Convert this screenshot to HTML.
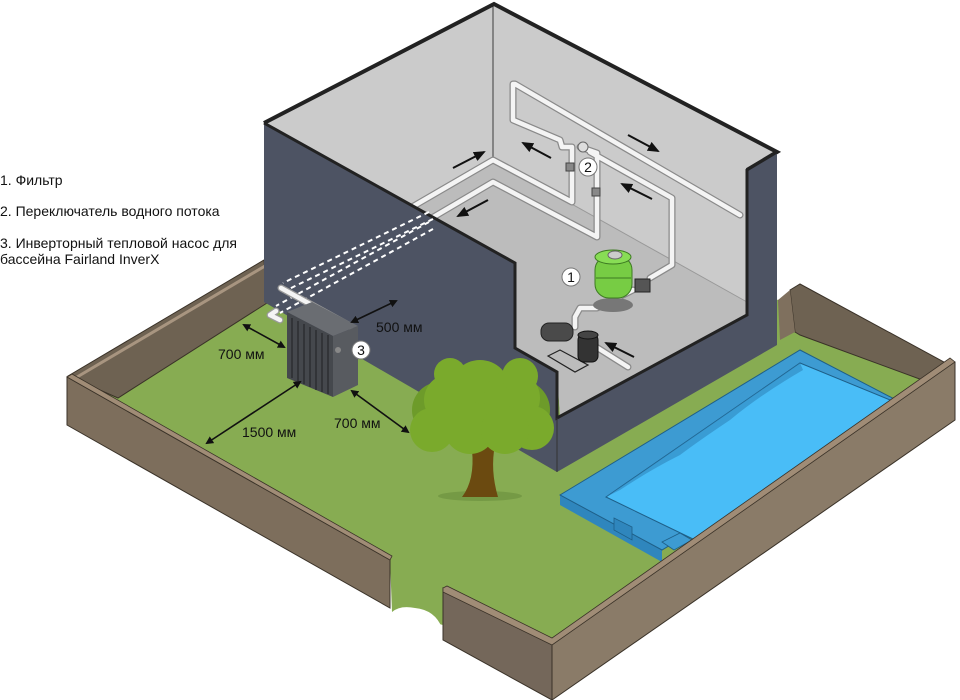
<!DOCTYPE html>
<html><head><meta charset="utf-8"><style>
html,body{margin:0;padding:0;background:#fff;}
svg{display:block}
text{font-family:"Liberation Sans",sans-serif;font-size:14px;fill:#111}
</style></head><body>
<svg width="960" height="700" viewBox="0 0 960 700" xmlns="http://www.w3.org/2000/svg">
<defs>
<marker id="ah" markerWidth="8" markerHeight="8" refX="6" refY="4" orient="auto-start-reverse" markerUnits="userSpaceOnUse"><path d="M0,0 L8,4 L0,8 Z" fill="#111"/></marker>
<marker id="ab" markerWidth="12" markerHeight="10" refX="10" refY="5" orient="auto" markerUnits="userSpaceOnUse"><path d="M0,0 L12,5 L0,10 Z" fill="#111"/></marker>
</defs>

<polygon points="68,378 264,262 780,300 800,288 952,366 552,646 443,592 443,625 392,612 390,560" fill="#87ac52"/>
<path d="M392,612 Q400,605 415,608 Q435,610 442,628 L443,640 L392,640 Z" fill="#fff"/>

<polygon points="68,376 264,260 267,303 118,398" fill="#6e6252" stroke="#3a3228" stroke-width="1"/>
<polyline points="72,380 265,266" stroke="#a89580" stroke-width="3" fill="none"/>
<polygon points="790,290 800,284 955,368 955,392 800,335 795,332" fill="#6e6252" stroke="#3a3228" stroke-width="1"/>
<polygon points="778,300 790,290 795,332 780,340" fill="#7f705e"/>

<polygon points="264,123 494,4 777,152 747,170 747,315 560,415 557,372 515,348 515,263" fill="#cbcbcb"/>
<polygon points="493,160 747,302 747,318 560,415 557,372 515,348 515,263 408,207" fill="#bcbcbc"/>
<line x1="493" y1="6" x2="493" y2="160" stroke="#555" stroke-width="1.2"/>
<line x1="493" y1="160" x2="747" y2="302" stroke="#999" stroke-width="1"/>
<polyline points="264,123 494,4 777,152 747,170" fill="none" stroke="#222" stroke-width="4"/>

<g fill="none" stroke-linecap="round" stroke-linejoin="round">
<g stroke="#8a8a8a" stroke-width="7">
<polyline points="740,215 515,84 513,84 513,120 560,140 562,147 572,147 572,202 493,160 412,207"/>
<polyline points="580,147 597,153 597,237 493,182 425,222"/>
<polyline points="590,152 672,198 672,265 650,278"/>
<polyline points="633,290 597,308 580,308 575,317 575,327"/>
<polyline points="593,345 628,367"/>
</g>
<g stroke="#f4f4f4" stroke-width="4.5">
<polyline points="740,215 515,84 513,84 513,120 560,140 562,147 572,147 572,202 493,160 412,207"/>
<polyline points="580,147 597,153 597,237 493,182 425,222"/>
<polyline points="590,152 672,198 672,265 650,278"/>
<polyline points="633,290 597,308 580,308 575,317 575,327"/>
<polyline points="593,345 628,367"/>
</g>
</g>
<rect x="566" y="163" width="8" height="8" fill="#888" stroke="#444"/>
<rect x="592" y="188" width="8" height="8" fill="#888" stroke="#444"/>
<circle cx="583" cy="147" r="5" fill="#ddd" stroke="#666"/>

<ellipse cx="613" cy="305" rx="20" ry="7" fill="#777"/>
<rect x="595" y="256" width="37" height="42" rx="14" fill="#77cc44" stroke="#3d7a22" stroke-width="1"/>
<ellipse cx="613" cy="257" rx="18" ry="7" fill="#88dd55" stroke="#3d7a22"/>
<ellipse cx="615" cy="255" rx="7" ry="4" fill="#ccc" stroke="#666"/>
<line x1="596" y1="278" x2="631" y2="278" stroke="#3d7a22"/>
<rect x="635" y="279" width="15" height="13" fill="#555" stroke="#222"/>
<polygon points="548,356 575,372 588,365 560,350" fill="none" stroke="#222" stroke-width="1.2"/>
<rect x="541" y="323" width="32" height="18" rx="8" fill="#4a4a4a" stroke="#222"/>
<rect x="578" y="334" width="20" height="28" rx="6" fill="#333" stroke="#111"/>
<ellipse cx="588" cy="335" rx="10" ry="4" fill="#444" stroke="#111"/>

<polygon points="264,123 515,263 515,348 557,372 557,472 264,302" fill="#4d5363"/>
<polygon points="557,418 747,315 747,170 777,152 777,345 557,472" fill="#4d5363"/>
<polyline points="264,123 515,263 515,348 557,372 557,418 747,315 747,170 777,152" fill="none" stroke="#222" stroke-width="3"/>
<line x1="557" y1="418" x2="557" y2="472" stroke="#333" stroke-width="1"/>

<g stroke="#fff" stroke-width="2" stroke-dasharray="5,4" fill="none">
<line x1="429" y1="212" x2="283" y2="283"/>
<line x1="433" y1="219" x2="287" y2="290"/>
<line x1="429" y1="222" x2="276" y2="306"/>
<line x1="433" y1="229" x2="280" y2="313"/>
</g>
<g fill="none" stroke-linecap="round" stroke-linejoin="round">
<polyline points="281,288 350,326" stroke="#999" stroke-width="7"/>
<polyline points="281,288 350,326" stroke="#f4f4f4" stroke-width="4.5"/>
<polyline points="276,311 270,315 280,320" stroke="#999" stroke-width="7"/>
<polyline points="276,311 270,315 280,320" stroke="#f4f4f4" stroke-width="4.5"/>
</g>

<polygon points="287,312 312,302 358,326 333,336" fill="#6a6d72"/>
<polygon points="287,312 333,336 333,397 287,378" fill="#45484d"/>
<polygon points="333,336 358,326 358,385 333,397" fill="#585b60"/>
<g stroke="#2c2e31" stroke-width="1.5">
<line x1="292" y1="318" x2="292" y2="378"/><line x1="298" y1="321" x2="298" y2="381"/>
<line x1="304" y1="324" x2="304" y2="384"/><line x1="310" y1="327" x2="310" y2="387"/>
<line x1="316" y1="330" x2="316" y2="390"/><line x1="322" y1="333" x2="322" y2="392"/>
<line x1="328" y1="335" x2="328" y2="394"/>
</g>
<circle cx="338" cy="350" r="3" fill="#888"/>

<ellipse cx="480" cy="496" rx="42" ry="5" fill="#759a45"/>
<path d="M462,497 Q475,480 472,450 L458,440 L470,442 L465,430 L478,440 L484,428 L488,440 L500,430 L495,445 Q490,470 498,497 Z" fill="#6b4a10"/>
<g fill="#6d9b2a">
<circle cx="440" cy="410" r="28"/><circle cx="520" cy="410" r="30"/><circle cx="478" cy="395" r="32"/>
</g>
<g fill="#7aaa2c">
<circle cx="480" cy="390" r="30"/><circle cx="450" cy="400" r="26"/><circle cx="512" cy="398" r="28"/>
<circle cx="432" cy="430" r="22"/><circle cx="532" cy="428" r="22"/><circle cx="470" cy="428" r="26"/><circle cx="505" cy="430" r="24"/>
<circle cx="520" cy="376" r="18"/><circle cx="450" cy="374" r="16"/>
</g>

<polygon points="560,495 800,350 902,403 662,550 662,562 560,505" fill="#2f86bd"/>
<polygon points="560,495 800,350 902,403 662,550" fill="#3d9bd2" stroke="#1e5f88" stroke-width="1"/>
<polygon points="606,497 800,363 895,402 695,540" fill="#49bdf7" stroke="#1e5f88"/>
<path d="M606,497 L800,363 L803,370 Q760,395 730,420 Q700,440 680,455 Q650,470 620,490 Z" fill="#2f86bd" opacity="0.6"/>
<polygon points="614,518 632,527 632,540 614,530" fill="#2f86bd" stroke="#1e5f88" stroke-width="0.8"/>
<polygon points="662,542 680,533 692,540 674,550" fill="#3d9bd2" stroke="#1e5f88" stroke-width="0.8"/>

<polygon points="67,377 390,560 390,608 67,425" fill="#7d6e5c" stroke="#3a3228" stroke-width="1"/>
<polygon points="67,377 72,374 392,556 390,560" fill="#a08c76" stroke="#3a3228" stroke-width="0.8"/>
<polygon points="443,588 552,642 552,700 443,640" fill="#74675a" stroke="#3a3228" stroke-width="1"/>
<polygon points="552,642 950,362 955,362 955,420 552,700" fill="#8a7b68" stroke="#3a3228" stroke-width="1"/>
<polygon points="443,588 447,586 552,638 950,358 955,362 552,645 443,592" fill="#a08c76" stroke="#3a3228" stroke-width="0.8"/>

<g stroke="#111" stroke-width="1.6" fill="none">
<line x1="352" y1="322" x2="396" y2="301" marker-start="url(#ah)" marker-end="url(#ah)"/>
<line x1="244" y1="325" x2="284" y2="347" marker-start="url(#ah)" marker-end="url(#ah)"/>
<line x1="207" y1="443" x2="300" y2="382" marker-start="url(#ah)" marker-end="url(#ah)"/>
<line x1="352" y1="391" x2="408" y2="432" marker-start="url(#ah)" marker-end="url(#ah)"/>
</g>
<g stroke="#111" stroke-width="2" fill="none">
<line x1="453" y1="168" x2="484" y2="152" marker-end="url(#ab)"/>
<line x1="551" y1="158" x2="523" y2="143" marker-end="url(#ab)"/>
<line x1="628" y1="135" x2="658" y2="151" marker-end="url(#ab)"/>
<line x1="652" y1="199" x2="622" y2="184" marker-end="url(#ab)"/>
<line x1="488" y1="200" x2="458" y2="216" marker-end="url(#ab)"/>
<line x1="634" y1="357" x2="606" y2="343" marker-end="url(#ab)"/>
</g>

<g stroke="#777" stroke-width="1" fill="#fff">
<circle cx="571" cy="277" r="9"/><circle cx="588" cy="167" r="9"/><circle cx="361" cy="350" r="9"/>
</g>
<text x="571" y="282" text-anchor="middle">1</text>
<text x="588" y="172" text-anchor="middle">2</text>
<text x="361" y="355" text-anchor="middle">3</text>

<text x="376" y="332">500 мм</text>
<text x="218" y="359">700 мм</text>
<text x="242" y="437">1500 мм</text>
<text x="334" y="428">700 мм</text>

<text x="0" y="185">1. Фильтр</text>
<text x="0" y="216">2. Переключатель водного потока</text>
<text x="0" y="248">3. Инверторный тепловой насос для</text>
<text x="0" y="264">бассейна Fairland InverX</text>
</svg>
</body></html>
